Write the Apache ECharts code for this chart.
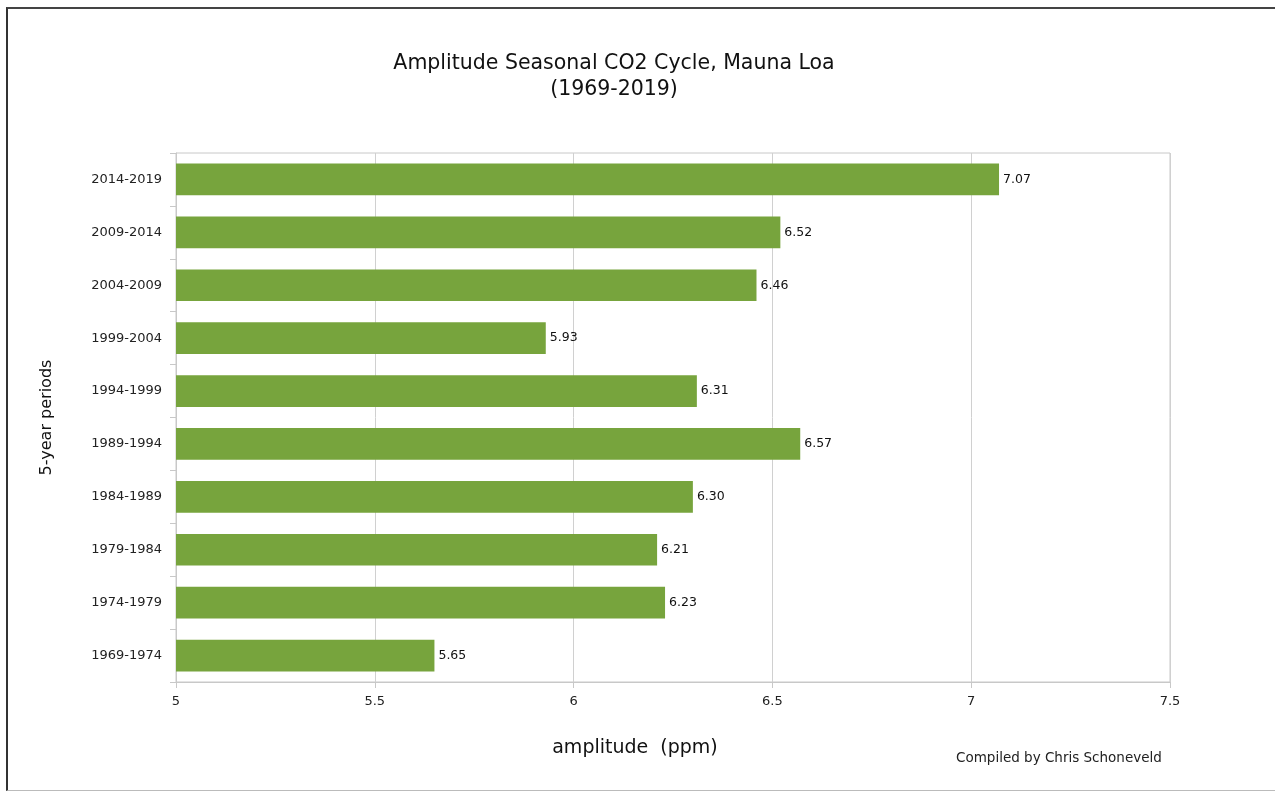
<!DOCTYPE html>
<html><head><meta charset="utf-8">
<script src="https://cdn.jsdelivr.net/npm/echarts@6/dist/echarts.min.js"></script>
<style>
html,body{margin:0;padding:0;background:#fff;}
#frame{position:absolute;left:6px;top:7px;width:1275px;height:784px;border-left:2px solid #333;border-top:2px solid #444;border-bottom:1px solid #bbb;box-sizing:border-box;}
#c{position:absolute;left:0;top:0;width:1275px;height:794px;}
</style></head>
<body>
<div id="frame"></div>
<div id="c"></div>
<script>
const periods = ['1969-1974','1974-1979','1979-1984','1984-1989','1989-1994','1994-1999','1999-2004','2004-2009','2009-2014','2014-2019'];
const amplitude = [5.65,6.23,6.21,6.30,6.57,6.31,5.93,6.46,6.52,7.07];
const xTicks = {min:5, max:7.5, interval:0.5};

const chart = echarts.init(document.getElementById('c'), null, {renderer:'canvas'});
const font = 'DejaVu Sans, Verdana, sans-serif';
chart.setOption({
  backgroundColor:'transparent',
  animation:false,
  title:{
    text:'Amplitude Seasonal CO2 Cycle, Mauna Loa\n(1969-2019)',
    left:609, top:46, textAlign:'center',
    textStyle:{fontFamily:font, fontSize:20.5, fontWeight:'normal', color:'#111', lineHeight:26}
  },
  graphic:[{
    type:'text', left:956, top:751,
    style:{text:'Compiled by Chris Schoneveld', fontFamily:font, fontSize:13.5, fill:'#222'}
  },{
    type:'text', x:635, y:748,
    style:{text:'amplitude  (ppm)', fontFamily:font, fontSize:19, fill:'#111', align:'center', verticalAlign:'middle'}
  }],
  grid:{left:176, right:105, top:153, bottom:112, show:true, borderColor:'#c8c8c8', borderWidth:1, containLabel:false},
  xAxis:{
    type:'value', min:xTicks.min, max:xTicks.max, interval:xTicks.interval,
    axisLine:{show:true, lineStyle:{color:'#c8c8c8'}},
    axisTick:{show:true, length:6, lineStyle:{color:'#c8c8c8'}},
    axisLabel:{fontFamily:font, fontSize:13, color:'#222', margin:13},
    splitLine:{show:true, lineStyle:{color:'#d0d0d0', width:1}}
  },
  yAxis:{
    type:'category', data:periods,
    name:'5-year periods', nameLocation:'middle', nameGap:121, nameRotate:90,
    nameTextStyle:{fontFamily:font, fontSize:16, color:'#111'},
    axisLine:{show:true, lineStyle:{color:'#c8c8c8'}},
    axisTick:{show:true, length:6, lineStyle:{color:'#c8c8c8'}},
    axisLabel:{fontFamily:font, fontSize:13, color:'#222', margin:14},
    splitLine:{show:false}
  },
  series:[{
    type:'bar', data:amplitude, barCategoryGap:'40%',
    itemStyle:{color:'#77a43d'},
    label:{show:true, position:'right', distance:4, fontFamily:font, fontSize:12.5, color:'#111',
      formatter:p=>p.value.toFixed(2)}
  }]
});
</script>
</body></html>
